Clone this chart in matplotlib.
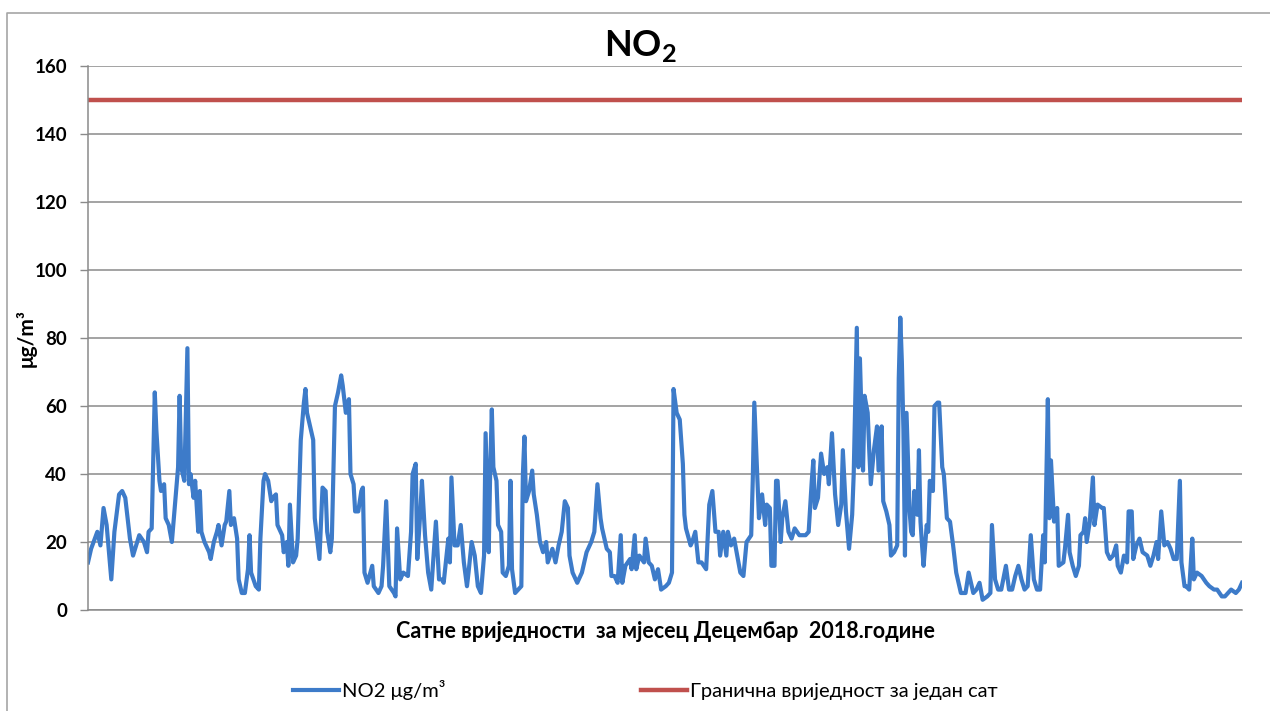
import matplotlib
matplotlib.use("Agg")
import matplotlib.pyplot as plt
from matplotlib.lines import Line2D

plt.rcParams['font.family'] = ['Lato', 'Noto Sans', 'DejaVu Sans']
plt.rcParams['mathtext.fontset'] = 'custom'
plt.rcParams['mathtext.rm'] = 'Lato'
plt.rcParams['mathtext.bf'] = 'Lato:bold'

blue = "#3d7bc9"
red = "#c0504d"
grid_color = "#8a8a8a"

# hour of the month (0..743) and hourly NO2
hours = [0, 2, 6, 8, 10, 12, 15, 17, 20, 22, 24, 27, 29, 31, 33, 36, 38, 39, 41, 43,
         44, 46, 47, 49, 50, 52, 54, 56, 58, 59, 60, 62, 64, 65, 66, 68, 69, 71, 72, 73,
         75, 78, 79, 81, 83, 84, 86, 88, 89, 91, 92, 94, 96, 97, 99, 101, 103, 104, 105, 108,
         110, 111, 113, 114, 116, 118, 119, 121, 122, 125, 126, 128, 129, 130, 132, 134, 135, 137, 139, 140,
         141, 143, 145, 146, 148, 149, 151, 153, 154, 156, 157, 159, 161, 163, 164, 166, 168, 169, 171, 172,
         174, 176, 177, 178, 180, 183, 184, 187, 189, 190, 192, 194, 197, 198, 199, 201, 203, 206, 208, 209,
         211, 212, 214, 215, 217, 219, 221, 224, 226, 228, 229, 232, 233, 234, 236, 238, 240, 242, 244, 245,
         247, 249, 251, 253, 255, 256, 258, 259, 260, 261, 263, 264, 266, 267, 269, 271, 272, 273, 275, 277,
         279, 280, 281, 282, 284, 286, 287, 289, 291, 293, 295, 296, 299, 301, 303, 305, 307, 309, 310, 312,
         315, 318, 321, 324, 326, 328, 330, 331, 334, 336, 337, 339, 341, 343, 344, 346, 349, 350, 352, 353,
         355, 358, 359, 361, 363, 365, 367, 369, 372, 374, 376, 377, 379, 381, 383, 384, 385, 388, 389, 391,
         393, 395, 398, 400, 402, 404, 406, 407, 409, 411, 412, 414, 416, 418, 420, 422, 424, 427, 428, 429,
         431, 432, 434, 436, 437, 439, 440, 442, 443, 444, 446, 447, 449, 451, 453, 455, 458, 462, 464, 466,
         467, 468, 470, 472, 474, 476, 477, 479, 481, 483, 485, 486, 488, 490, 492, 493, 495, 496, 497, 499,
         500, 502, 503, 504, 506, 508, 509, 511, 512, 514, 516, 517, 519, 521, 522, 523, 524, 525, 526, 527,
         529, 530, 531, 532, 534, 535, 536, 537, 538, 540, 541, 542, 544, 545, 547, 548, 550, 551, 553, 555,
         557, 559, 562, 565, 567, 570, 572, 574, 576, 579, 581, 582, 584, 586, 588, 591, 593, 595, 597, 599,
         601, 603, 605, 607, 609, 611, 613, 615, 616, 618, 619, 620, 622, 624, 625, 628, 629, 631, 632, 634,
         636, 638, 639, 641, 642, 643, 645, 647, 648, 650, 653, 654, 656, 658, 660, 662, 663, 665, 667, 669,
         670, 672, 673, 675, 677, 679, 682, 684, 686, 688, 689, 691, 693, 695, 697, 699, 701, 703, 704, 706,
         707, 709, 711, 712, 714, 717, 720, 722, 725, 727, 730, 732, 734, 736, 739, 741, 743]
no2 = [14, 18, 23, 19, 30, 25, 9, 23, 34, 35, 33, 21, 16, 19, 22, 20, 17, 23, 24, 64,
       53, 38, 35, 37, 27, 25, 20, 31, 42, 63, 42, 38, 77, 37, 40, 33, 38, 23, 35, 23,
       20, 17, 15, 20, 23, 25, 19, 25, 26, 35, 25, 27, 21, 9, 5, 5, 12, 22, 11, 7,
       6, 21, 38, 40, 38, 32, 33, 34, 25, 22, 17, 20, 13, 31, 14, 16, 21, 50, 61, 65,
       58, 54, 50, 27, 19, 15, 36, 35, 23, 17, 21, 60, 64, 69, 66, 58, 62, 40, 37, 29,
       29, 35, 36, 11, 8, 13, 7, 5, 7, 13, 32, 7, 5, 4, 24, 9, 11, 10, 23, 40,
       43, 15, 29, 38, 22, 11, 6, 26, 9, 9, 8, 21, 14, 39, 19, 19, 25, 14, 7, 11,
       20, 16, 7, 5, 16, 52, 17, 42, 59, 42, 38, 25, 23, 11, 10, 13, 38, 12, 5, 6,
       7, 40, 51, 32, 35, 41, 34, 28, 20, 17, 20, 14, 18, 14, 19, 23, 32, 30, 16, 11,
       8, 11, 17, 20, 23, 37, 27, 24, 18, 17, 10, 10, 8, 22, 8, 13, 15, 12, 22, 12,
       16, 14, 21, 14, 13, 9, 12, 6, 7, 8, 11, 65, 58, 56, 43, 28, 24, 19, 20, 23,
       14, 14, 12, 31, 35, 23, 23, 16, 23, 16, 23, 19, 21, 16, 11, 10, 20, 22, 38, 61,
       38, 27, 34, 25, 31, 30, 13, 13, 38, 38, 20, 27, 32, 23, 21, 24, 22, 22, 23, 38,
       44, 30, 33, 46, 40, 42, 37, 52, 34, 25, 31, 47, 29, 18, 28, 40, 83, 42, 74, 41,
       63, 58, 47, 37, 47, 54, 41, 54, 32, 29, 25, 16, 17, 19, 68, 86, 73, 53, 16, 58,
       29, 23, 22, 35, 28, 47, 26, 19, 13, 25, 23, 38, 35, 60, 61, 61, 42, 40, 27, 26,
       19, 11, 5, 5, 11, 5, 6, 8, 3, 4, 5, 25, 9, 6, 6, 13, 6, 6, 10, 13,
       9, 6, 7, 22, 9, 6, 6, 22, 14, 62, 27, 44, 26, 30, 13, 14, 18, 28, 17, 13,
       10, 13, 22, 23, 27, 20, 26, 39, 25, 31, 30, 30, 17, 15, 16, 19, 13, 11, 16, 14,
       29, 29, 15, 19, 21, 17, 16, 13, 16, 20, 15, 29, 19, 20, 18, 15, 15, 38, 14, 7,
       7, 6, 21, 9, 11, 10, 8, 7, 6, 6, 4, 4, 5, 6, 5, 6, 8]
limit_value = 150
y_ticks = [0, 20, 40, 60, 80, 100, 120, 140, 160]

fig = plt.figure(figsize=(12.7, 7.11), dpi=100)
ax = fig.add_axes([88 / 1270, 1 - 610 / 711, (1242 - 88) / 1270, (610 - 66) / 711])

ax.set_axisbelow(True)
ax.yaxis.grid(True, color=grid_color, lw=1.1)
ax.plot(hours, no2, color=blue, lw=3.0, solid_joinstyle='round', label="NO2 μg/m³")
ax.plot([0, 743], [limit_value, limit_value], color=red, lw=3.2,
        label="Гранична вриједност за један сат")

ax.set_xlim(0, 743)
ax.set_ylim(0, 160)
ax.set_yticks(y_ticks)
ax.set_xticks([])
ax.tick_params(axis='y', length=6, width=1, color=grid_color, pad=9,
               labelsize=13.5)
for lab in ax.get_yticklabels():
    lab.set_fontweight('bold')
for s in ['top', 'right']:
    ax.spines[s].set_visible(False)
for s in ['left', 'bottom']:
    ax.spines[s].set_color(grid_color)
    ax.spines[s].set_linewidth(1.1)

ax.set_ylabel("μg/m³", fontsize=15, fontweight='bold')
ax.yaxis.set_label_coords(-0.044, 0.5)
ax.set_xlabel("Сатне вриједности  за мјесец Децембар  2018.године",
              fontsize=15.5, fontweight='bold', labelpad=8)
fig.text(640 / 1270, 1 - 46 / 711, r"NO$_\mathbf{2}$", fontsize=26,
         fontweight='bold', ha='center', va='center')

fig.legend(loc='center', bbox_to_anchor=(0.508, 1 - 690 / 711), ncol=2,
           frameon=False, handlelength=2.3, handletextpad=0.15,
           columnspacing=9.7, prop={'size': 14.5})

# outer chart border (left and top edges visible)
fig.add_artist(Line2D([7 / 1270, 7 / 1270, 1], [0, 1 - 13 / 711, 1 - 13 / 711],
                      transform=fig.transFigure, color="#a6a6a6", lw=1.2))

fig.savefig("out.png", dpi=100)
